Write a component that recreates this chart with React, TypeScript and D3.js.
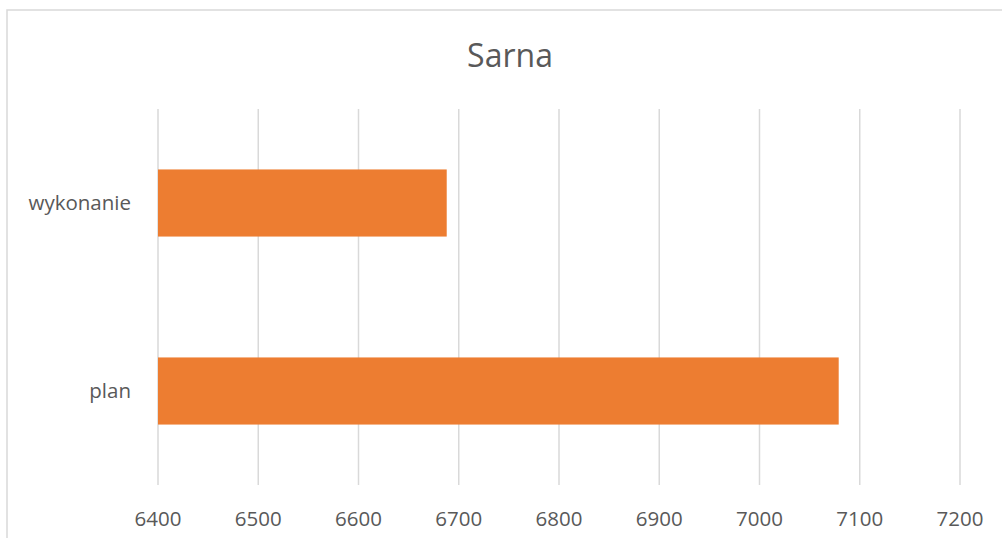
import React from "react";
import * as d3 from "d3";

const title = "Sarna";
const categories = ["wykonanie", "plan"];
const values = [6688, 7079];
const ticks = [6400, 6500, 6600, 6700, 6800, 6900, 7000, 7100, 7200];

export default function App() {
  const W = 1002, H = 538;
  const left = 158, right = 960, top = 109, bottom = 485;
  const x = d3.scaleLinear().domain([6400, 7200]).range([left, right]);
  const y = d3.scaleBand().domain(categories).range([top, bottom]).paddingInner(0.643).paddingOuter(0.3215);
  const font = "'Open Sans', sans-serif";
  return (
    <svg width={W} height={H} style={{ position: "absolute", left: 0, top: 0, background: "#fff" }}>
      <rect x={7} y={10} width={1100} height={700} fill="#fff" stroke="#d9d9d9" strokeWidth={1.5} />
      <text x={510} y={67} textAnchor="middle" fontFamily={font} fontSize={32} fill="#595959">{title}</text>
      {ticks.map(t => (
        <g key={t}>
          <line x1={x(t)} x2={x(t)} y1={top} y2={bottom} stroke="#d9d9d9" strokeWidth={1.5} />
          <text x={x(t)} y={526} textAnchor="middle" fontFamily={font} fontSize={20.5} fill="#595959">{t}</text>
        </g>
      ))}
      {categories.map((c, i) => (
        <g key={c}>
          <rect x={x(6400)} y={y(c)} width={x(values[i]) - x(6400)} height={y.bandwidth()} fill="#ED7D31" />
          <text x={131} y={y(c)! + y.bandwidth() / 2} dy="0.35em" textAnchor="end" fontFamily={font} fontSize={20.5} fill="#595959">{c}</text>
        </g>
      ))}
    </svg>
  );
}
